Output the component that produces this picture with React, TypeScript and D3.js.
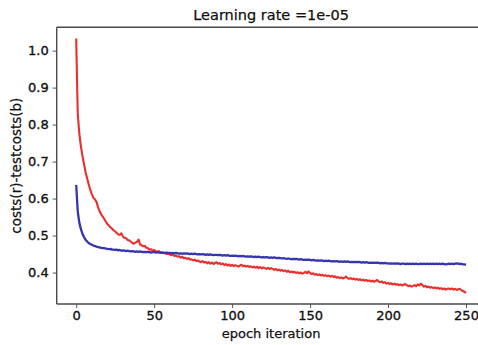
import * as d3 from 'd3';
import { useRef, useEffect } from 'react';

// train cost (red), one value per epoch 0..250
const trainCost = [
  1.033, 0.830, 0.776, 0.742, 0.716, 0.693, 0.672, 0.655, 0.639, 0.624,
  0.612, 0.602, 0.598, 0.591, 0.577, 0.566, 0.558, 0.551, 0.545, 0.538,
  0.531, 0.527, 0.522, 0.519, 0.514, 0.511, 0.507, 0.503, 0.502, 0.506,
  0.497, 0.494, 0.493, 0.488, 0.487, 0.484, 0.480, 0.478, 0.481, 0.483,
  0.489, 0.476, 0.474, 0.471, 0.472, 0.467, 0.466, 0.462, 0.463, 0.459,
  0.461, 0.458, 0.456, 0.458, 0.454, 0.455, 0.452, 0.453, 0.450, 0.451,
  0.449, 0.447, 0.449, 0.445, 0.446, 0.443, 0.444, 0.440, 0.443, 0.439,
  0.440, 0.437, 0.439, 0.435, 0.436, 0.433, 0.435, 0.431, 0.433, 0.430,
  0.428, 0.431, 0.427, 0.429, 0.425, 0.428, 0.424, 0.427, 0.423, 0.426,
  0.428, 0.424, 0.426, 0.422, 0.425, 0.420, 0.423, 0.419, 0.422, 0.418,
  0.421, 0.417, 0.420, 0.418, 0.416, 0.419, 0.421, 0.417, 0.419, 0.416,
  0.418, 0.415, 0.417, 0.414, 0.416, 0.413, 0.416, 0.412, 0.415, 0.411,
  0.414, 0.412, 0.410, 0.413, 0.409, 0.412, 0.410, 0.407, 0.410, 0.406,
  0.408, 0.405, 0.407, 0.404, 0.406, 0.402, 0.405, 0.401, 0.403, 0.400,
  0.402, 0.399, 0.401, 0.398, 0.400, 0.397, 0.399, 0.402, 0.398, 0.403,
  0.399, 0.396, 0.398, 0.394, 0.396, 0.393, 0.395, 0.392, 0.394, 0.391,
  0.393, 0.390, 0.392, 0.389, 0.391, 0.388, 0.390, 0.386, 0.388, 0.385,
  0.387, 0.384, 0.386, 0.389, 0.385, 0.383, 0.385, 0.382, 0.384, 0.381,
  0.383, 0.380, 0.382, 0.379, 0.381, 0.378, 0.380, 0.377, 0.379, 0.376,
  0.378, 0.375, 0.377, 0.380, 0.376, 0.374, 0.376, 0.372, 0.374, 0.370,
  0.372, 0.369, 0.371, 0.368, 0.370, 0.367, 0.369, 0.366, 0.368, 0.365,
  0.367, 0.369, 0.366, 0.363, 0.365, 0.362, 0.364, 0.366, 0.363, 0.368,
  0.365, 0.370, 0.366, 0.362, 0.364, 0.360, 0.362, 0.359, 0.361, 0.358,
  0.360, 0.357, 0.359, 0.356, 0.358, 0.355, 0.357, 0.354, 0.356, 0.357,
  0.355, 0.357, 0.354, 0.356, 0.353, 0.355, 0.356, 0.352, 0.350, 0.348,
  0.345,
];

// test cost (blue), one value per epoch 0..250
const testCost = [
  0.637, 0.565, 0.535, 0.518, 0.505, 0.496, 0.489, 0.484, 0.480, 0.477,
  0.475, 0.473, 0.472, 0.470, 0.469, 0.468, 0.467, 0.466, 0.466, 0.465,
  0.464, 0.463, 0.464, 0.462, 0.462, 0.461, 0.462, 0.460, 0.461, 0.459,
  0.460, 0.459, 0.458, 0.459, 0.458, 0.457, 0.458, 0.457, 0.456, 0.457,
  0.456, 0.457, 0.456, 0.455, 0.456, 0.455, 0.456, 0.455, 0.454, 0.455,
  0.455, 0.454, 0.455, 0.454, 0.454, 0.453, 0.454, 0.453, 0.454, 0.453,
  0.453, 0.452, 0.453, 0.452, 0.453, 0.452, 0.451, 0.452, 0.451, 0.452,
  0.451, 0.452, 0.451, 0.450, 0.451, 0.450, 0.451, 0.450, 0.449, 0.450,
  0.449, 0.450, 0.449, 0.448, 0.449, 0.448, 0.449, 0.448, 0.447, 0.448,
  0.448, 0.447, 0.448, 0.447, 0.446, 0.447, 0.446, 0.447, 0.446, 0.445,
  0.446, 0.445, 0.446, 0.445, 0.444, 0.445, 0.444, 0.445, 0.444, 0.443,
  0.444, 0.443, 0.444, 0.443, 0.442, 0.443, 0.442, 0.443, 0.442, 0.441,
  0.442, 0.441, 0.442, 0.441, 0.440, 0.441, 0.440, 0.441, 0.440, 0.439,
  0.440, 0.439, 0.438, 0.439, 0.438, 0.437, 0.438, 0.437, 0.436, 0.437,
  0.436, 0.437, 0.436, 0.435, 0.436, 0.435, 0.434, 0.435, 0.434, 0.435,
  0.434, 0.433, 0.434, 0.433, 0.432, 0.433, 0.432, 0.433, 0.432, 0.431,
  0.432, 0.431, 0.432, 0.431, 0.430, 0.431, 0.430, 0.431, 0.430, 0.429,
  0.430, 0.429, 0.430, 0.429, 0.430, 0.429, 0.428, 0.429, 0.428, 0.429,
  0.428, 0.429, 0.428, 0.427, 0.428, 0.427, 0.428, 0.427, 0.426, 0.427,
  0.426, 0.427, 0.426, 0.427, 0.426, 0.425, 0.426, 0.425, 0.426, 0.425,
  0.425, 0.424, 0.425, 0.424, 0.425, 0.424, 0.425, 0.424, 0.423, 0.424,
  0.424, 0.423, 0.424, 0.423, 0.424, 0.423, 0.424, 0.423, 0.424, 0.423,
  0.423, 0.424, 0.423, 0.424, 0.423, 0.424, 0.423, 0.424, 0.423, 0.424,
  0.423, 0.424, 0.423, 0.424, 0.423, 0.424, 0.423, 0.422, 0.423, 0.424,
  0.423, 0.424, 0.423, 0.424, 0.425, 0.424, 0.423, 0.424, 0.422, 0.422,
  0.421,
];

const xTicks = [0, 50, 100, 150, 200, 250];
const yTicks = [0.4, 0.5, 0.6, 0.7, 0.8, 0.9, 1.0];

const W = 478;
const H = 345;
const FONT = 'DejaVu Sans, sans-serif';

const App = () => {
  const ref = useRef<SVGSVGElement>(null);

  useEffect(() => {
    if (!ref.current) return;
    const svg = d3.select(ref.current);
    svg.selectAll('*').remove();

    // plot box runs past the right edge of the picture (cropped figure)
    const left = 56.7, top = 27.3, right = 485.5, bottom = 304;

    const x = d3.scaleLinear().domain([-12.5, 262.5]).range([left, right]);
    const y = d3.scaleLinear().domain([0.315, 1.063]).range([bottom, top]);

    const line = d3.line<number>()
      .x((_, i) => x(i))
      .y(d => y(d));

    svg.append('path')
      .datum(trainCost)
      .attr('d', line)
      .attr('fill', 'none')
      .attr('stroke', '#e8302e')
      .attr('stroke-width', 2.1)
      .attr('stroke-linejoin', 'round');

    svg.append('path')
      .datum(testCost)
      .attr('d', line)
      .attr('fill', 'none')
      .attr('stroke', '#3535ae')
      .attr('stroke-width', 2.3)
      .attr('stroke-linejoin', 'round');

    const xAxis = svg.append('g')
      .attr('transform', `translate(0,${bottom})`)
      .call(d3.axisBottom(x).tickValues(xTicks).tickFormat(d3.format('d')).tickSize(4).tickPadding(3));
    const yAxis = svg.append('g')
      .attr('transform', `translate(${left},0)`)
      .call(d3.axisLeft(y).tickValues(yTicks).tickFormat(d3.format('.1f')).tickSize(4).tickPadding(4));

    [xAxis, yAxis].forEach(g => {
      g.select('.domain').remove();
      g.selectAll('line').attr('stroke', '#555').attr('stroke-width', 1);
      g.selectAll('text')
        .attr('fill', '#111')
        .attr('stroke', '#111')
        .attr('stroke-width', 0.35)
        .style('font-family', FONT)
        .style('font-size', '13px');
    });

    // spines: left, bottom, top (right one is outside the crop)
    const spine = '#4a4a4a';
    svg.append('line').attr('x1', left).attr('x2', left).attr('y1', top).attr('y2', bottom)
      .attr('stroke', spine).attr('stroke-width', 1.4);
    svg.append('line').attr('x1', left).attr('x2', right).attr('y1', bottom).attr('y2', bottom)
      .attr('stroke', spine).attr('stroke-width', 1.4);
    svg.append('line').attr('x1', left).attr('x2', right).attr('y1', top).attr('y2', top)
      .attr('stroke', spine).attr('stroke-width', 1.4);

    const label = (txt: string, size: string) =>
      svg.append('text')
        .attr('text-anchor', 'middle')
        .style('font-family', FONT)
        .style('font-size', size)
        .attr('fill', '#111')
        .attr('stroke', '#111')
        .attr('stroke-width', 0.25)
        .text(txt);

    label('Learning rate =1e-05', '14.5px')
      .attr('x', (left + right) / 2)
      .attr('y', 19.5);

    label('epoch iteration', '13px')
      .attr('x', (left + right) / 2)
      .attr('y', 338);

    label('costs(r)-testcosts(b)', '13.5px')
      .attr('transform', `translate(21,${(top + bottom) / 2}) rotate(-90)`);
  }, []);

  return (
    <svg
      ref={ref}
      width={W}
      height={H}
      style={{ position: 'absolute', left: 0, top: 0, background: '#fff' }}
    />
  );
};

export default App;
